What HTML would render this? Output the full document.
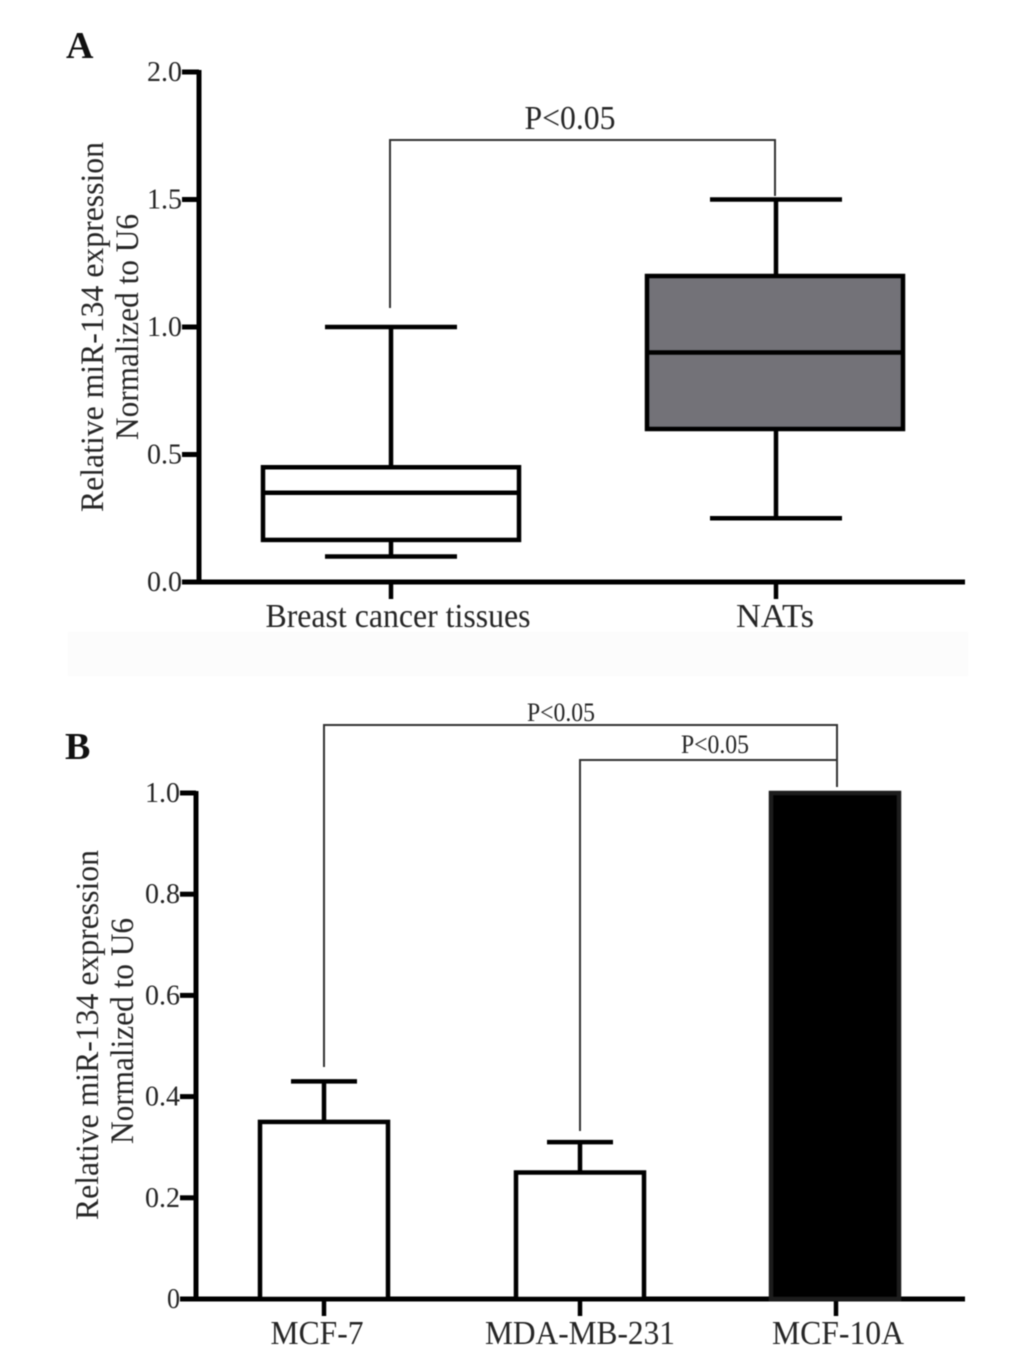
<!DOCTYPE html>
<html><head><meta charset="utf-8"><title>miR-134 expression</title>
<style>html,body{margin:0;padding:0;background:#fff}svg{display:block;filter:blur(.5px)}text{font-family:"Liberation Serif",serif;fill:#262626}</style></head>
<body>
<svg id="c" xmlns="http://www.w3.org/2000/svg" width="1033" height="1351" viewBox="0 0 1033 1351">
<rect width="1033" height="1351" fill="#fff"/>
<rect x="68" y="632" width="900" height="44" fill="#fcfcfc"/>
<text x="66" y="58" font-size="38" font-weight="bold" style="fill:#111">A</text>
<text x="65" y="759" font-size="38" font-weight="bold" style="fill:#111">B</text>
<g>
<text transform="translate(103,327) rotate(-90)" text-anchor="middle" font-size="33" textLength="370" lengthAdjust="spacingAndGlyphs">Relative miR-134 expression</text>
<text transform="translate(138,327) rotate(-90)" text-anchor="middle" font-size="33" textLength="226" lengthAdjust="spacingAndGlyphs">Normalized to U6</text>
</g>
<g>
<text transform="translate(98,1035) rotate(-90)" text-anchor="middle" font-size="33" textLength="370" lengthAdjust="spacingAndGlyphs">Relative miR-134 expression</text>
<text transform="translate(133,1031) rotate(-90)" text-anchor="middle" font-size="33" textLength="226" lengthAdjust="spacingAndGlyphs">Normalized to U6</text>
</g>
</svg>
<script>
var boxCategories = ['Breast cancer tissues', 'NATs'];
var boxMin = [0.1, 0.25];
var boxQ1 = [0.165, 0.6];
var boxMedian = [0.35, 0.9];
var boxQ3 = [0.45, 1.2];
var boxMax = [1.0, 1.5];
var boxFills = ['#ffffff', '#737278'];
var boxTicks = [0, 0.5, 1, 1.5, 2];
var boxTickLabels = ['0.0', '0.5', '1.0', '1.5', '2.0'];

var barCategories = ['MCF-7', 'MDA-MB-231', 'MCF-10A'];
var barValues = [0.35, 0.25, 1.0];
var barErrorTops = [0.43, 0.31, 1.0];
var barFills = ['#ffffff', '#ffffff', '#000000'];
var barTicks = [0, 0.2, 0.4, 0.6, 0.8, 1];
var barTickLabels = ['0', '0.2', '0.4', '0.6', '0.8', '1.0'];

var svg = document.getElementById('c');
var NS = 'http://www.w3.org/2000/svg';
function mk(tag, attrs, parent) {
  var el = document.createElementNS(NS, tag);
  for (var k in attrs) el.setAttribute(k, attrs[k]);
  (parent || svg).appendChild(el);
  return el;
}
function line(x1, y1, x2, y2, w, color, parent) {
  return mk('line', {x1: x1, y1: y1, x2: x2, y2: y2, 'stroke-width': w, stroke: color || '#000'}, parent);
}
function label(x, y, str, size, anchor, width, parent) {
  var attrs = {x: x, y: y, 'font-size': size, 'text-anchor': anchor};
  if (width) { attrs.textLength = width; attrs.lengthAdjust = 'spacingAndGlyphs'; }
  var t = mk('text', attrs, parent);
  t.textContent = str;
  return t;
}

/* Panel A scales */
function yA(v) { return 582 - v * 255; }
function xA(i) { return 390 + i * 385; }
var capHalfA = 66;
var boxHalf = 128;

var axesA = mk('g', {});


line(199, yA(2) - 2, 199, yA(0) + 2, 5, '#000', axesA);
line(182, yA(0), 965, yA(0), 5, '#000', axesA);
boxTicks.forEach(function (t, i) {
  line(182, yA(t), 199, yA(t), 5, '#000', axesA);
  label(182, yA(t) + 9, boxTickLabels[i], 28, 'end', 35, axesA);
});
boxCategories.forEach(function (c, i) {
  var x = xA(i);
  var g = mk('g', {});
  
  
  line(x + 1, yA(boxMin[i]), x + 1, yA(boxMax[i]), 4.5, '#000', g);
  line(x - capHalfA + 1, yA(boxMax[i]), x + capHalfA + 1, yA(boxMax[i]), 4.5, '#000', g);
  line(x - capHalfA + 1, yA(boxMin[i]), x + capHalfA + 1, yA(boxMin[i]), 4.5, '#000', g);
  mk('rect', {x: x - boxHalf + (i === 0 ? 1 : 0), y: yA(boxQ3[i]), width: boxHalf * 2, height: yA(boxQ1[i]) - yA(boxQ3[i]), fill: boxFills[i], stroke: '#000', 'stroke-width': 4.5}, g);
  line(x - boxHalf, yA(boxMedian[i]), x + boxHalf, yA(boxMedian[i]), 4.5, '#000', g);
  line(x + 1, yA(0), x + 1, yA(0) + 17, 4.5, '#000', axesA);
  label(i === 0 ? 398 : 775, 627, c, 34, 'middle', i === 0 ? 265 : 78, axesA);
});
var bracketA = mk('path', {d: 'M' + xA(0) + ' 308V140H' + xA(1) + 'V196', fill: 'none', stroke: '#333', 'stroke-width': 2});


var pA = label(570, 129, 'P<0.05', 34, 'middle', 91);



/* Panel B scales */
function yB(v) { return 1299 - v * 506; }
function xB(i) { return 324 + i * 256; }
var barHalf = 64;
var capB = 33;

var axesB = mk('g', {});


barCategories.forEach(function (c, i) {
  var x = xB(i);
  var g = mk('g', {});
  
  
  if (barErrorTops[i] > barValues[i]) {
    line(x, yB(barValues[i]), x, yB(barErrorTops[i]), 4.5, '#000', g);
    line(x - capB, yB(barErrorTops[i]), x + capB, yB(barErrorTops[i]), 4.5, '#000', g);
  }
  mk('rect', {x: x - barHalf - (i === 2 ? 1 : 0), y: yB(barValues[i]), width: barHalf * 2, height: yB(0) - yB(barValues[i]), fill: barFills[i], stroke: i === 2 ? '#1c1c1c' : '#000', 'stroke-width': 4.5}, g);
  line(x, yB(0), x, yB(0) + 17, 4.5, '#000', axesB);
  label(i === 0 ? 317 : (i === 1 ? 580 : 838), 1344, c, 34, 'middle', [93, 190, 132][i], axesB);
});
line(196, yB(1) - 2, 196, yB(0) + 2, 5, '#000', axesB);
line(180, yB(0), 965, yB(0), 5, '#000', axesB);
barTicks.forEach(function (t, i) {
  line(180, yB(t), 196, yB(t), 5, '#000', axesB);
  label(180, yB(t) + 9, barTickLabels[i], 28, 'end', i === 0 ? 13 : 35, axesB);
});
var bracketB1 = mk('path', {d: 'M' + xB(0) + ' 1067V725H' + (xB(2) + 1) + 'V787', fill: 'none', stroke: '#333', 'stroke-width': 2});


var bracketB2 = mk('path', {d: 'M' + xB(1) + ' 1131V760H' + (xB(2) + 1), fill: 'none', stroke: '#333', 'stroke-width': 2});


var pB1 = label(561, 721, 'P<0.05', 26, 'middle', 68);


var pB2 = label(715, 753, 'P<0.05', 26, 'middle', 68);


</script>
</body></html>
